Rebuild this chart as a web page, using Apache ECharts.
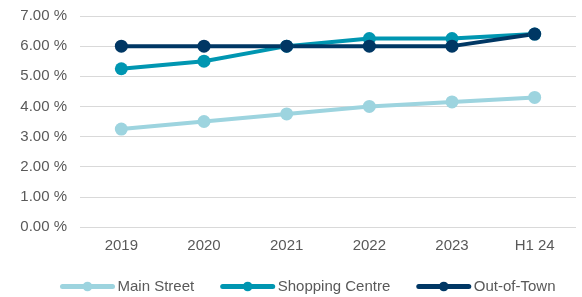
<!DOCTYPE html>
<html>
<head>
<meta charset="utf-8">
<script src="https://cdn.jsdelivr.net/npm/echarts@6/dist/echarts.min.js"></script>
<style>
  html, body { margin: 0; padding: 0; background: #fff; }
  #chart { width: 582px; height: 297px; }
</style>
</head>
<body>
<div id="chart"></div>
<script>
const categories = ["2019", "2020", "2021", "2022", "2023", "H1 24"];
const mainStreet = [3.25, 3.5, 3.75, 4.0, 4.15, 4.3];
const shoppingCentre = [5.25, 5.5, 6.0, 6.25, 6.25, 6.4];
const outOfTown = [6.0, 6.0, 6.0, 6.0, 6.0, 6.4];

const textColor = "#595959";
const font = "Liberation Sans, Arial, sans-serif";

const makeSeries = (name, data, color) => ({
  name,
  type: "line",
  data,
  symbol: "circle",
  symbolSize: 13,
  showSymbol: true,
  lineStyle: { color, width: 4 },
  itemStyle: { color },
});

const chart = echarts.init(document.getElementById("chart"));
chart.setOption({
  animation: false,
  backgroundColor: "#ffffff",
  grid: { top: 16, left: 80, right: 6, bottom: 70 },
  xAxis: {
    type: "category",
    data: categories,
    axisLine: { show: false },
    axisTick: { show: false },
    axisLabel: { color: textColor, fontFamily: font, fontSize: 15, margin: 11 },
  },
  yAxis: {
    type: "value",
    min: 0,
    max: 7,
    interval: 1,
    axisLine: { show: false },
    axisTick: { show: false },
    axisLabel: {
      color: textColor,
      fontFamily: font,
      fontSize: 15,
      margin: 13,
      formatter: (v) => v.toFixed(2) + " %",
    },
    splitLine: { lineStyle: { color: "#d9d9d9", width: 1 } },
  },
  legend: {
    bottom: 0,
    left: 55,
    padding: [5, 5, 3, 5],
    itemWidth: 50,
    itemHeight: 12,
    itemGap: 26,
    lineStyle: { width: 5, cap: "round" },
    textStyle: { color: textColor, fontFamily: font, fontSize: 15 },
    data: ["Main Street", "Shopping Centre", "Out-of-Town"],
  },
  series: [
    makeSeries("Main Street", mainStreet, "#9dd4df"),
    makeSeries("Shopping Centre", shoppingCentre, "#0096b1"),
    makeSeries("Out-of-Town", outOfTown, "#003764"),
  ],
});
</script>
</body>
</html>
